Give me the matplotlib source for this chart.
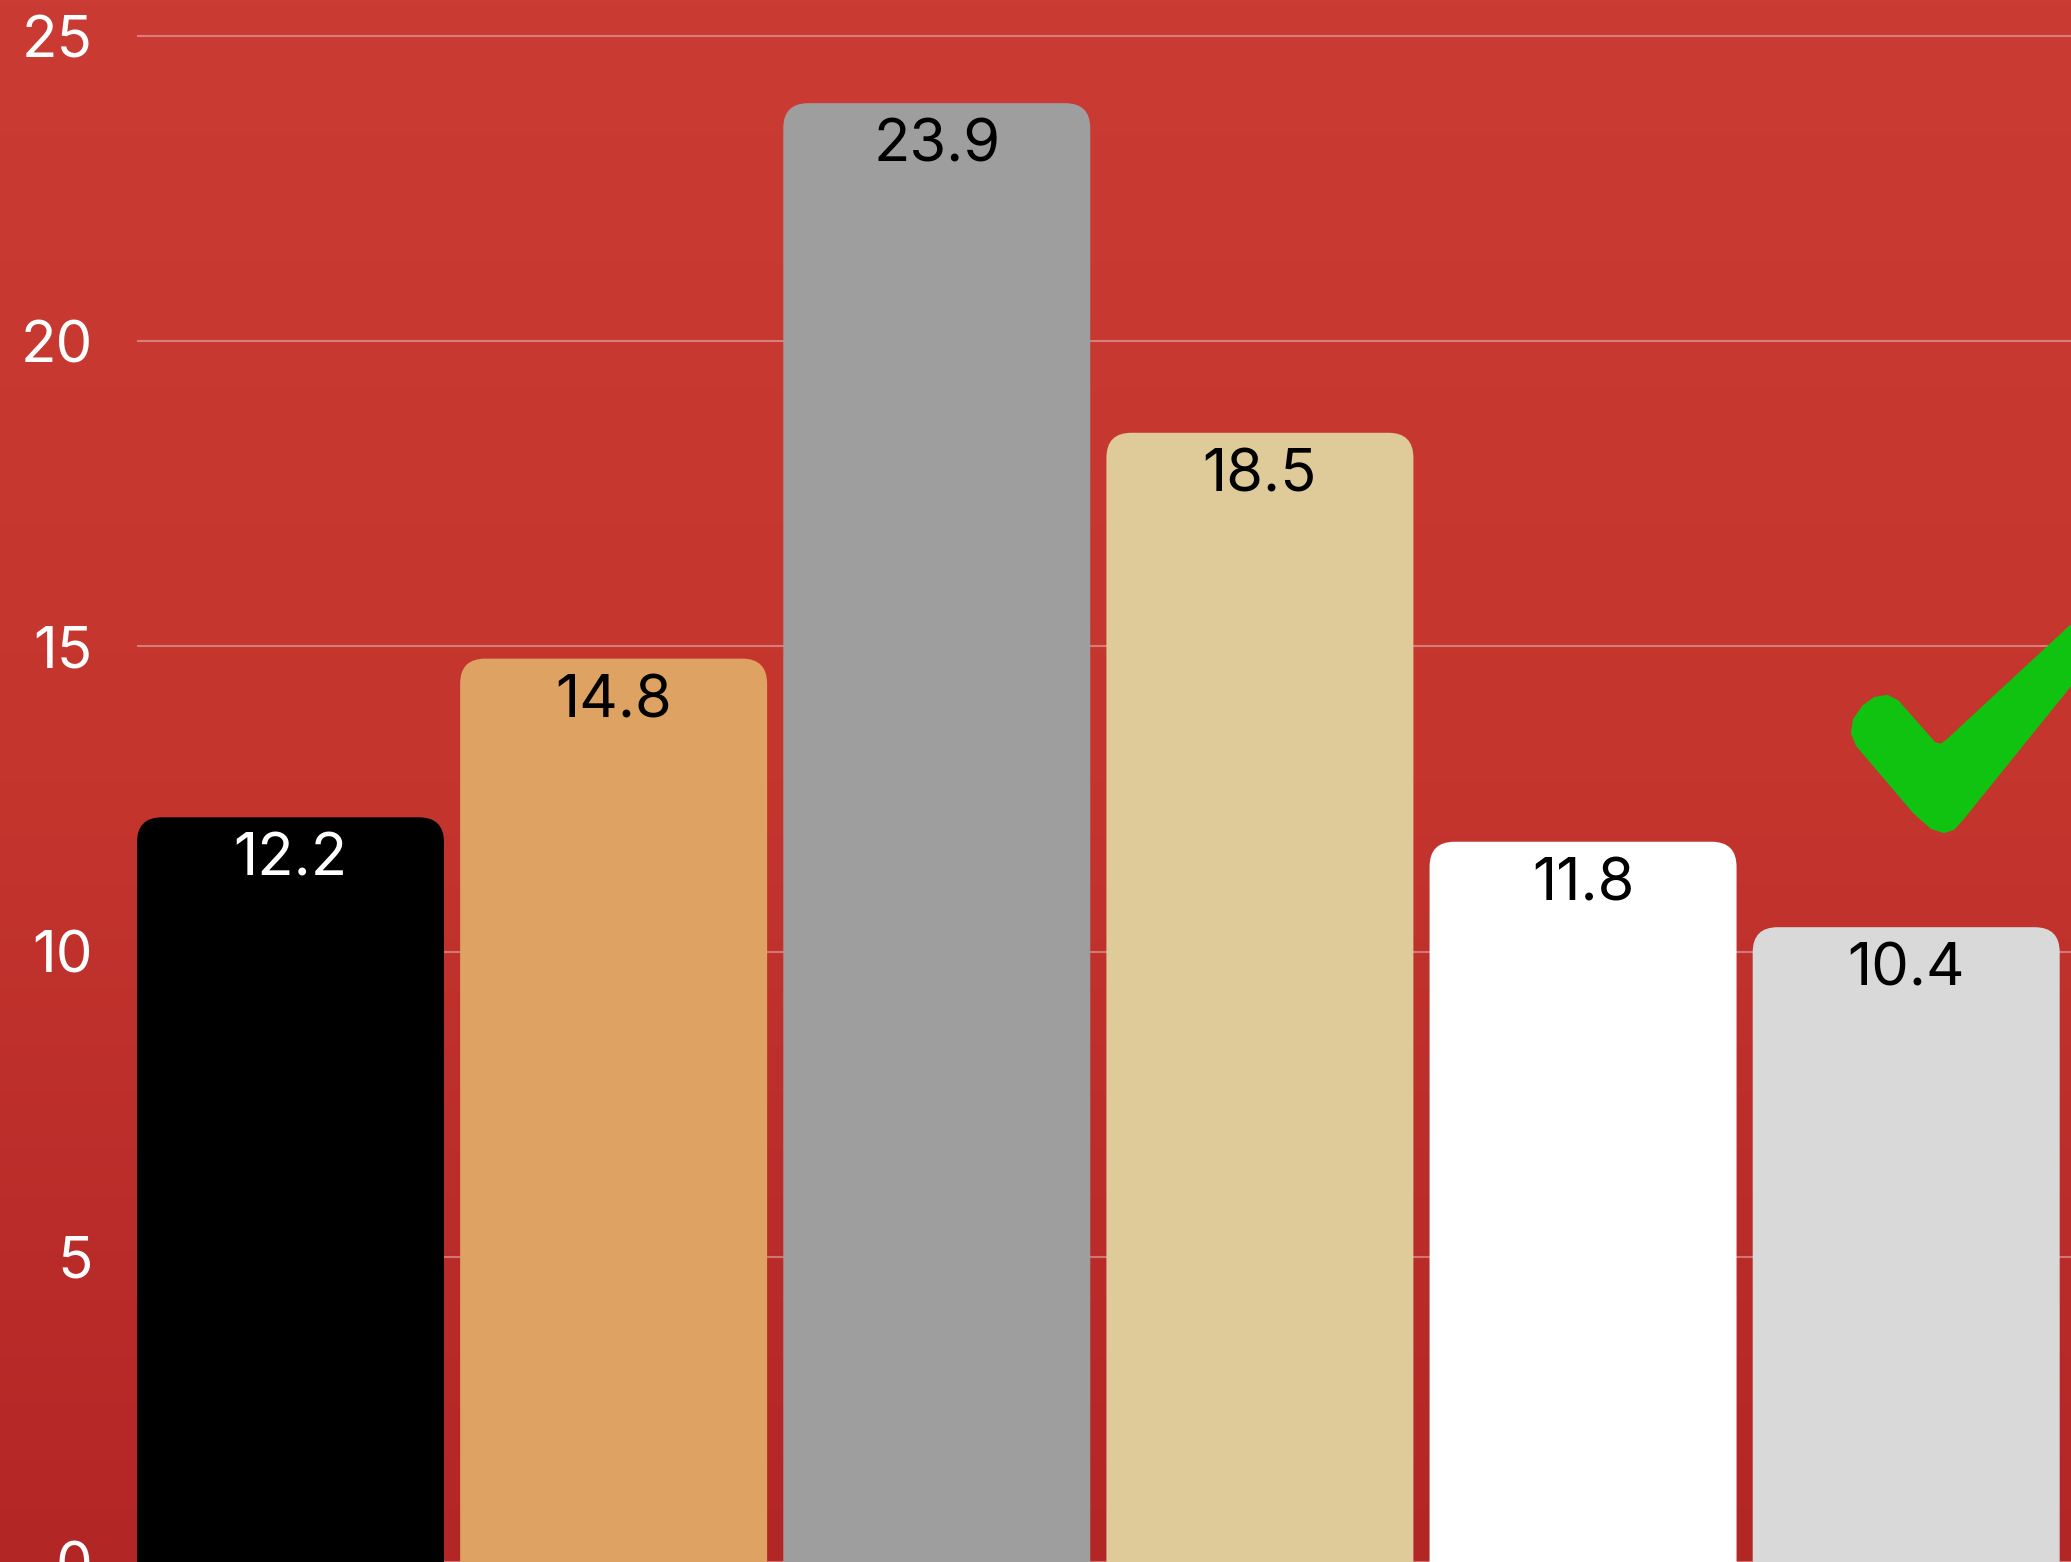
import numpy as np
import matplotlib
matplotlib.use("Agg")
import matplotlib.pyplot as plt
from matplotlib.patches import FancyBboxPatch, Polygon
from matplotlib.colors import LinearSegmentedColormap

# ---------- Datos ----------
categorias = ["A", "B", "C", "D", "E", "F"]
valores = [12.2, 14.8, 23.9, 18.5, 11.8, 10.4]
colores = ["#000000", "#dea263", "#9e9e9e", "#dfcb9a", "#ffffff", "#d9d9d9"]
color_etiqueta = ["white", "black", "black", "black", "black", "black"]
ticks_y = [0, 5, 10, 15, 20, 25]

plt.rcParams["font.family"] = ["Inter", "DejaVu Sans"]

W, H = 2071, 1562
fig = plt.figure(figsize=(W / 100, H / 100), dpi=100)

# ---------- Fondo rojo ----------
bg = fig.add_axes([0, 0, 1, 1], zorder=0)
grad = np.linspace(0, 1, 256).reshape(-1, 1)
cmap_bg = LinearSegmentedColormap.from_list("bg", ["#c93b33", "#c4352e", "#b32626"])
bg.imshow(grad, aspect="auto", cmap=cmap_bg, extent=[0, 1, 0, 1], origin="upper")
bg.axis("off")

# ---------- Gráfico ----------
x0 = 137 / W
ax = fig.add_axes([x0, 0, 1 - x0, 1], zorder=1)
ax.patch.set_alpha(0)

ancho = 0.95
x = np.arange(len(categorias))
barras = ax.bar(x, valores, width=ancho, color="none", edgecolor="none")

ax.set_xlim(-ancho / 2, 5.51)
ax.set_ylim(0, 25.59)

# escalas para esquinas redondeadas
px_x = (W - 137) / (5.51 + ancho / 2)
px_y = H / 25.59
radio = 25 / px_x
for b, col in zip(barras, colores):
    p = FancyBboxPatch((b.get_x(), -1), b.get_width(), b.get_height() + 1,
                       boxstyle=f"round,pad=0,rounding_size={radio}",
                       mutation_aspect=px_x / px_y,
                       facecolor=col, edgecolor="none", zorder=3)
    ax.add_patch(p)

for xi, v, c in zip(x, valores, color_etiqueta):
    ax.annotate(f"{v}", (xi, v), xytext=(0, -31), textcoords="offset points",
                ha="center", va="center", fontsize=43, color=c, zorder=4)

ax.set_yticks(ticks_y)
ax.set_yticklabels([str(t) for t in ticks_y])
ax.tick_params(axis="y", length=0, pad=32, labelsize=42, labelcolor="white")
ax.set_xticks([])
ax.grid(axis="y", color="white", alpha=0.35, linewidth=1.5, zorder=1)
ax.set_axisbelow(True)
for s in ax.spines.values():
    s.set_visible(False)

# ---------- Marca verde ----------
check = [(1853, 733), (1855, 720), (1864, 707), (1875, 699), (1887, 697),
         (1897, 702), (1934, 744), (1941, 746), (1948, 741),
         (2071, 627), (2071, 683), (1962, 818), (1953, 828), (1944, 831),
         (1932, 827), (1915, 812), (1858, 745)]
check_fig = [(px / W, 1 - py / H) for px, py in check]
fig.patches.append(Polygon(check_fig, closed=True, transform=fig.transFigure,
                           facecolor="#10c310", edgecolor="#10c310",
                           linewidth=3, joinstyle="round", zorder=5))

fig.savefig("out.png", dpi=100)
